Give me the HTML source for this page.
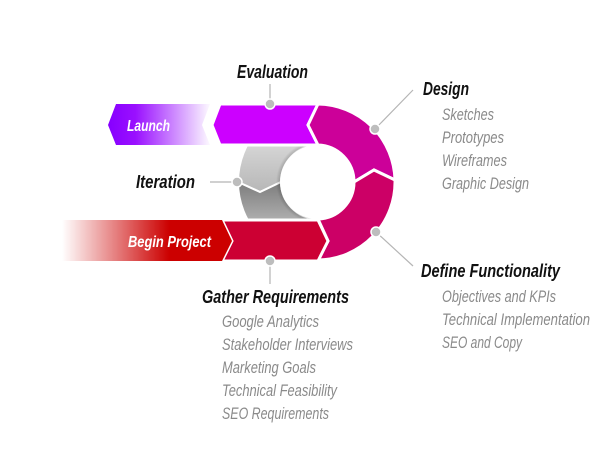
<!DOCTYPE html>
<html><head><meta charset="utf-8"><style>
html,body{margin:0;padding:0;background:#fff;width:600px;height:454px;overflow:hidden}
svg text{font-family:"Liberation Sans Narrow","Liberation Sans",sans-serif;font-style:italic}
.h{font-weight:bold;fill:#111;font-size:18px}
.s{fill:#8a8a8a;font-size:16.5px}
.w{font-weight:bold;fill:#fff;font-size:16px}
</style></head><body>
<svg width="600" height="454" viewBox="0 0 600 454" xmlns="http://www.w3.org/2000/svg">
<defs>
<linearGradient id="gl" x1="110" y1="0" x2="212" y2="0" gradientUnits="userSpaceOnUse">
<stop offset="0" stop-color="#8800ff"/><stop offset="0.25" stop-color="#9a10ff"/><stop offset="1" stop-color="#ffffff"/></linearGradient>
<linearGradient id="gb" x1="62" y1="0" x2="215" y2="0" gradientUnits="userSpaceOnUse">
<stop offset="0" stop-color="#cc0000" stop-opacity="0"/><stop offset="0.7" stop-color="#cc0000"/><stop offset="1" stop-color="#cc0000"/></linearGradient>
<linearGradient id="gt" x1="0" y1="110" x2="0" y2="190" gradientUnits="userSpaceOnUse">
<stop offset="0" stop-color="#ececec"/><stop offset="1" stop-color="#b8b8b8"/></linearGradient>
<linearGradient id="gd" x1="0" y1="180" x2="0" y2="240" gradientUnits="userSpaceOnUse">
<stop offset="0" stop-color="#7a7a7a"/><stop offset="1" stop-color="#c8c8c8"/></linearGradient>
<radialGradient id="sh"><stop offset="0.8" stop-color="#000" stop-opacity="0.35"/><stop offset="1" stop-color="#000" stop-opacity="0"/></radialGradient>
</defs>
<path d="M317,145 A37,37 0 0 0 281,182 L260,192 L238,182 A79,79 0 0 1 317,103 Z" fill="url(#gt)" stroke="#fff" stroke-width="2"/>
<path d="M238,182 L260,192 L281,182 A37,37 0 0 0 317,219 L317,261 A79,79 0 0 1 238,182 Z" fill="url(#gd)" stroke="#fff" stroke-width="2"/>
<circle cx="317" cy="182" r="41" fill="url(#sh)"/>
<circle cx="317" cy="182" r="37" fill="#fff"/>
<g stroke="#fff" stroke-width="3" stroke-linejoin="miter">
<path d="M116,104 L210,104 L202,125 L210,145 L116,145 L108,125 Z" fill="url(#gl)" stroke="none"/>
<path d="M220,104 L318,104 L308,125 L318,145 L220,145 L212,125 Z" fill="#cc00ff"/>
<path d="M318,104 A78,78 0 0 1 395,180 L374,170 L354,182 A37,37 0 0 0 318,145 L308,125 Z" fill="#cc0099"/>
<path d="M395,180 A78,78 0 0 1 318,260 L328,241 L318,219 A37,37 0 0 0 354,182 L374,170 Z" fill="#cc0066"/>
<path d="M222,220 L318,220 L328,241 L318,261 L222,261 L232,241 Z" fill="#cc0033"/>
<path d="M60,220 L222,220 L232,241 L222,261 L60,261 Z" fill="url(#gb)" stroke="none"/>
</g>
<g stroke="#b5b5b5" stroke-width="1.2" fill="none">
<line x1="270" y1="104" x2="270" y2="84"/>
<line x1="375" y1="129" x2="413" y2="90"/>
<line x1="237" y1="182" x2="210" y2="182"/>
<line x1="376" y1="232" x2="413" y2="266"/>
<line x1="270" y1="261" x2="270" y2="284"/>
</g>
<g fill="#bdbdbd" stroke="#fff" stroke-width="1.5">
<circle cx="270" cy="104" r="5"/><circle cx="375" cy="129" r="5"/><circle cx="237" cy="182" r="5"/><circle cx="376" cy="232" r="5"/><circle cx="270" cy="261" r="5"/>
</g>
<text class="w" x="127" y="131" textLength="43" lengthAdjust="spacingAndGlyphs">Launch</text>
<text class="w" x="128" y="247" textLength="83" lengthAdjust="spacingAndGlyphs">Begin Project</text>
<text class="h" x="237" y="78" textLength="71" lengthAdjust="spacingAndGlyphs">Evaluation</text>
<text class="h" x="423" y="95" textLength="46" lengthAdjust="spacingAndGlyphs">Design</text>
<text class="s" x="442" y="120" textLength="52" lengthAdjust="spacingAndGlyphs">Sketches</text>
<text class="s" x="442" y="143" textLength="62" lengthAdjust="spacingAndGlyphs">Prototypes</text>
<text class="s" x="442" y="166" textLength="65" lengthAdjust="spacingAndGlyphs">Wireframes</text>
<text class="s" x="442" y="189" textLength="87" lengthAdjust="spacingAndGlyphs">Graphic Design</text>
<text class="h" x="136" y="188" textLength="59" lengthAdjust="spacingAndGlyphs">Iteration</text>
<text class="h" x="421" y="277" textLength="139" lengthAdjust="spacingAndGlyphs">Define Functionality</text>
<text class="s" x="442" y="302" textLength="114" lengthAdjust="spacingAndGlyphs">Objectives and KPIs</text>
<text class="s" x="442" y="325" textLength="148" lengthAdjust="spacingAndGlyphs">Technical Implementation</text>
<text class="s" x="442" y="348" textLength="80" lengthAdjust="spacingAndGlyphs">SEO and Copy</text>
<text class="h" x="202" y="303" textLength="147" lengthAdjust="spacingAndGlyphs">Gather Requirements</text>
<text class="s" x="222" y="327" textLength="97" lengthAdjust="spacingAndGlyphs">Google Analytics</text>
<text class="s" x="222" y="350" textLength="131" lengthAdjust="spacingAndGlyphs">Stakeholder Interviews</text>
<text class="s" x="222" y="373" textLength="94" lengthAdjust="spacingAndGlyphs">Marketing Goals</text>
<text class="s" x="222" y="396" textLength="115" lengthAdjust="spacingAndGlyphs">Technical Feasibility</text>
<text class="s" x="222" y="419" textLength="107" lengthAdjust="spacingAndGlyphs">SEO Requirements</text>
</svg>
</body></html>
